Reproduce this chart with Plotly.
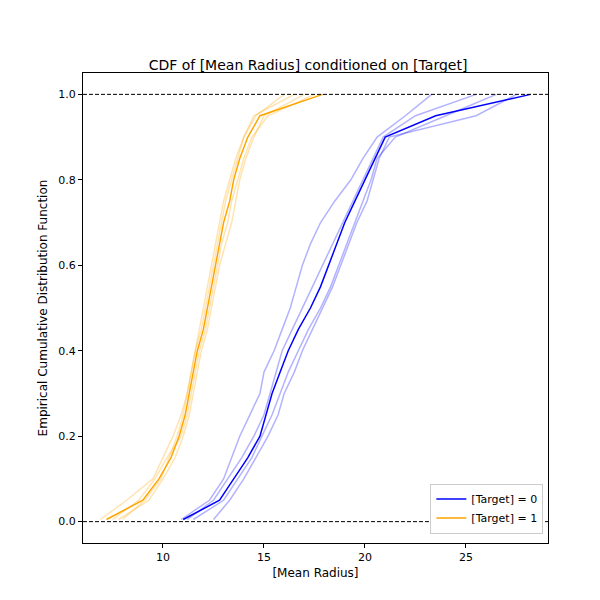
import plotly.graph_objects as go

levels = [0.005, 0.05, 0.1, 0.15, 0.2, 0.25, 0.3, 0.35, 0.4, 0.45, 0.5,
          0.55, 0.6, 0.65, 0.7, 0.75, 0.8, 0.85, 0.9, 0.95, 1.0]

# Target = 0
blue_main = [11.0, 12.8, 13.5, 14.2, 14.8, 15.1, 15.4, 15.8, 16.2, 16.7, 17.3,
             17.8, 18.2, 18.6, 19.0, 19.5, 20.0, 20.5, 21.0, 23.5, 28.2]
blue_faint = [
    [10.9, 12.3, 13.0, 13.4, 13.8, 14.3, 14.8, 15.0, 15.5, 15.9, 16.3, 16.6, 16.9, 17.3, 17.8, 18.5, 19.3, 19.9, 20.6, 22.0, 23.3],
    [11.2, 12.5, 13.2, 13.9, 14.5, 15.0, 15.3, 15.6, 15.9, 16.4, 16.9, 17.4, 17.9, 18.4, 18.9, 19.4, 19.9, 20.4, 20.9, 22.5, 25.5],
    [12.5, 13.3, 14.0, 14.6, 15.2, 15.7, 16.0, 16.5, 16.9, 17.4, 17.9, 18.4, 18.8, 19.2, 19.6, 20.1, 20.4, 20.7, 21.2, 25.5, 27.5],
    [11.5, 13.0, 13.7, 14.4, 14.9, 15.4, 15.8, 16.2, 16.7, 17.2, 17.8, 18.3, 18.7, 19.1, 19.5, 19.9, 20.3, 20.6, 21.5, 24.0, 26.5],
]

# Target = 1
orange_main = [7.2, 9.0, 9.8, 10.4, 10.8, 11.1, 11.3, 11.5, 11.7, 12.0, 12.2,
               12.4, 12.6, 12.8, 13.0, 13.3, 13.5, 13.8, 14.2, 14.8, 17.9]
orange_faint = [
    [6.9, 8.2, 9.5, 10.0, 10.5, 10.9, 11.2, 11.4, 11.6, 11.9, 12.1, 12.3, 12.5, 12.7, 12.9, 13.1, 13.4, 13.7, 14.0, 14.5, 16.5],
    [7.8, 9.3, 10.0, 10.6, 11.0, 11.3, 11.5, 11.7, 11.9, 12.2, 12.4, 12.6, 12.8, 13.1, 13.4, 13.6, 13.8, 14.1, 14.5, 15.0, 17.0],
    [8.0, 9.1, 9.9, 10.3, 10.7, 11.0, 11.2, 11.4, 11.6, 11.8, 12.0, 12.2, 12.4, 12.6, 12.8, 13.0, 13.3, 13.6, 14.0, 14.6, 16.0],
    [7.5, 8.8, 9.6, 10.2, 10.9, 11.2, 11.4, 11.6, 11.8, 12.1, 12.3, 12.5, 12.7, 12.9, 13.2, 13.4, 13.7, 14.0, 14.4, 15.2, 17.5],
]

fig = go.Figure()
for xs in blue_faint:
    fig.add_trace(go.Scatter(x=xs, y=levels, mode="lines", line=dict(color="rgba(0,0,255,0.3)", width=1.5), showlegend=False))
for xs in orange_faint:
    fig.add_trace(go.Scatter(x=xs, y=levels, mode="lines", line=dict(color="rgba(255,165,0,0.3)", width=1.5), showlegend=False))
fig.add_trace(go.Scatter(x=blue_main, y=levels, mode="lines", name="[Target] = 0", line=dict(color="blue", width=1.5)))
fig.add_trace(go.Scatter(x=orange_main, y=levels, mode="lines", name="[Target] = 1", line=dict(color="orange", width=1.5)))

for yv in [0, 1]:
    fig.add_shape(type="line", xref="paper", x0=0, x1=1, y0=yv, y1=yv, line=dict(color="black", width=1, dash="4px,2px"))

axis = dict(showgrid=False, zeroline=False, showline=True, mirror=True, linecolor="black",
            ticks="outside", tickcolor="black", ticklen=4, title_font=dict(size=12))
fig.update_layout(
    width=600, height=600, plot_bgcolor="white", paper_bgcolor="white",
    font=dict(family="DejaVu Sans", size=11, color="black"),
    title=dict(text="CDF of [Mean Radius] conditioned on [Target]", x=0.5, xanchor="center",
               y=0.905, yanchor="middle", font=dict(size=14)),
    margin=dict(l=75, r=60, t=65, b=65, autoexpand=False),
    xaxis=dict(axis, range=[6.04, 29.06], tickvals=[10, 15, 20, 25], title=dict(text="[Mean Radius]", standoff=5)),
    yaxis=dict(axis, range=[-0.05, 1.05], tickvals=[0, 0.2, 0.4, 0.6, 0.8, 1.0], tickformat=".1f",
               title=dict(text="Empirical Cumulative Distribution Function", standoff=8)),
    legend=dict(x=0.99, y=0.02, xanchor="right", yanchor="bottom", bordercolor="#ccc", borderwidth=1, bgcolor="white"),
)
fig.write_html("out.html")
